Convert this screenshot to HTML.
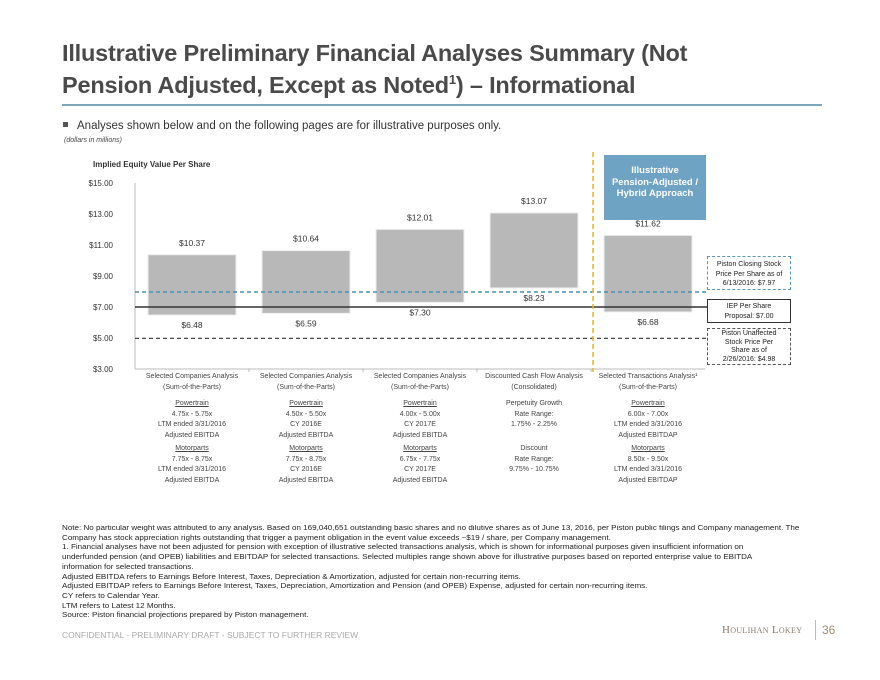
<!DOCTYPE html>
<html><head><meta charset="utf-8"><style>
body{margin:0;width:880px;height:680px;background:#fff;font-family:"Liberation Sans",Arial,sans-serif;position:relative;overflow:hidden}
.a{position:absolute;white-space:nowrap}
.t{left:62px;font-size:23.5px;font-weight:bold;color:#4a4a4a;letter-spacing:-0.2px}
.fn{left:62px;font-size:7px;color:#222;line-height:9.7px;position:absolute;top:524px;white-space:nowrap;transform:scaleX(1.15);transform-origin:0 0}
.cat{font-size:7px;color:#444;text-align:center;line-height:10.5px;width:114px}
</style></head><body>
<div class="a t" style="top:40px">Illustrative Preliminary Financial Analyses Summary (Not</div>
<div class="a t" style="top:72px">Pension Adjusted, Except as Noted<sup style="font-size:13px">1</sup>) – Informational</div>
<div class="a" style="left:62px;top:104px;width:760px;height:2px;background:#7fa6bd"></div>
<div class="a" style="left:63px;top:120px;font-size:11.5px;color:#333"><span style="display:inline-block;width:5px;height:5px;background:#555;margin-right:9px;vertical-align:2px"></span>Analyses shown below and on the following pages are for illustrative purposes only.</div>
<div class="a" style="left:64px;top:137px;font-size:7px;font-style:italic;color:#444">(dollars in millions)</div>
<div class="a" style="left:93px;top:160px;font-size:8px;font-weight:bold;color:#333">Implied Equity Value Per Share</div>

<svg id="chart" class="a" style="left:0;top:0" width="880" height="520"></svg>

<div class="a" style="left:604px;top:155px;width:102px;height:65px;background:#6fa3c3;color:#fff;font-size:9.5px;font-weight:bold;text-align:center;line-height:11.5px;padding-top:10px;box-sizing:border-box">Illustrative<br>Pension-Adjusted /<br>Hybrid Approach</div>
<div class="a" style="left:707px;top:256px;width:84px;height:34px;border:1px dashed #5b97b8;box-sizing:border-box;font-size:7px;text-align:center;line-height:9.5px;padding-top:3px;color:#222">Piston Closing Stock<br>Price Per Share as of<br>6/13/2016: $7.97</div>
<div class="a" style="left:707px;top:299px;width:84px;height:24px;border:1px solid #333;box-sizing:border-box;font-size:7px;text-align:center;line-height:9.5px;padding-top:2px;color:#222">IEP Per Share<br>Proposal: $7.00</div>
<div class="a" style="left:707px;top:328px;width:84px;height:37px;border:1px dashed #555;box-sizing:border-box;font-size:7px;text-align:center;line-height:8.5px;padding-top:1px;color:#222">Piston Unaffected<br>Stock Price Per<br>Share as of<br>2/26/2016: $4.98</div>

<div id="cats"></div>

<div class="fn">Note: No particular weight was attributed to any analysis. Based on 169,040,651 outstanding basic shares and no dilutive shares as of June 13, 2016, per Piston public filings and Company management. The<br>Company has stock appreciation rights outstanding that trigger a payment obligation in the event value exceeds ~$19 / share, per Company management.<br>1. Financial analyses have not been adjusted for pension with exception of illustrative selected transactions analysis, which is shown for informational purposes given insufficient information on<br>underfunded pension (and OPEB) liabilities and EBITDAP for selected transactions. Selected multiples range shown above for illustrative purposes based on reported enterprise value to EBITDA<br>information for selected transactions.<br>Adjusted EBITDA refers to Earnings Before Interest, Taxes, Depreciation &amp; Amortization, adjusted for certain non-recurring items.<br>Adjusted EBITDAP refers to Earnings Before Interest, Taxes, Depreciation, Amortization and Pension (and OPEB) Expense, adjusted for certain non-recurring items.<br>CY refers to Calendar Year.<br>LTM refers to Latest 12 Months.<br>Source: Piston financial projections prepared by Piston management.</div>
<div class="a" style="left:62px;top:630px;font-size:8.5px;color:#aaa">CONFIDENTIAL - PRELIMINARY DRAFT - SUBJECT TO FURTHER REVIEW</div>
<div class="a" style="left:722px;top:624px;font-size:11px;color:#8a7a6a;font-family:'Liberation Serif',serif;font-variant:small-caps;letter-spacing:0.3px">Houlihan Lokey</div>
<div class="a" style="left:815px;top:620px;width:1px;height:20px;background:#bbb"></div>
<div class="a" style="left:822px;top:623px;font-size:12px;color:#a08c6e">36</div>

<script>
const categories=["Selected Companies Analysis|(Sum-of-the-Parts)","Selected Companies Analysis|(Sum-of-the-Parts)","Selected Companies Analysis|(Sum-of-the-Parts)","Discounted Cash Flow Analysis|(Consolidated)","Selected Transactions Analysis¹|(Sum-of-the-Parts)"];
const lows=[6.48,6.59,7.30,8.23,6.68];
const highs=[10.37,10.64,12.01,13.07,11.62];
const yTicks=[3,5,7,9,11,13,15];
const refClosing=7.97, refIEP=7.00, refUnaffected=4.98;
const details=[
"<u>Powertrain</u>|4.75x - 5.75x|LTM ended 3/31/2016|Adjusted EBITDA|<u>Motorparts</u>|7.75x - 8.75x|LTM ended 3/31/2016|Adjusted EBITDA",
"<u>Powertrain</u>|4.50x - 5.50x|CY 2016E|Adjusted EBITDA|<u>Motorparts</u>|7.75x - 8.75x|CY 2016E|Adjusted EBITDA",
"<u>Powertrain</u>|4.00x - 5.00x|CY 2017E|Adjusted EBITDA|<u>Motorparts</u>|6.75x - 7.75x|CY 2017E|Adjusted EBITDA",
"Perpetuity Growth|Rate Range:|1.75% - 2.25%|&nbsp;|Discount|Rate Range:|9.75% - 10.75%|&nbsp;",
"<u>Powertrain</u>|6.00x - 7.00x|LTM ended 3/31/2016|Adjusted EBITDAP|<u>Motorparts</u>|8.50x - 9.50x|LTM ended 3/31/2016|Adjusted EBITDAP"];
const NS="http://www.w3.org/2000/svg";
const svg=document.getElementById('chart');
const x0=135,bandW=114,yMin=3,yMax=15,yTop=183,yBot=369;
const y=v=>yBot-(v-yMin)/(yMax-yMin)*(yBot-yTop);
const xc=i=>x0+bandW*(i+0.5);
function mk(tag,attrs){const e=document.createElementNS(NS,tag);for(const k in attrs)e.setAttribute(k,attrs[k]);svg.appendChild(e);return e;}
function txt(x,yy,s,anchor,size){const e=mk('text',{x:x,y:yy,'text-anchor':anchor,'font-size':size,fill:'#333','font-family':'Liberation Sans, sans-serif'});e.textContent=s;return e;}
let ax=mk('line',{x1:x0,y1:yTop,x2:x0,y2:yBot,stroke:'#bbb'});


let bx=mk('line',{x1:x0,y1:yBot,x2:x0+bandW*5,y2:yBot,stroke:'#bbb'});


yTicks.forEach(v=>{
  const t=txt(113,y(v)+3,'$'+v.toFixed(2),'end',8);
  
  
});
for(let i=1;i<5;i++){mk('line',{x1:x0+bandW*i,y1:yBot,x2:x0+bandW*i,y2:yBot+3,stroke:'#bbb'});}
lows.forEach((lo,i)=>{
  const r=mk('rect',{x:xc(i)-44,y:y(highs[i]),width:88,height:y(lo)-y(highs[i]),fill:'#b8b8b8',stroke:'#eee','stroke-width':1});
  
  
  const h=txt(xc(i),y(highs[i])-9,'$'+highs[i].toFixed(2),'middle',8.5);
  
  
  const l=txt(xc(i),y(lo)+13,'$'+lo.toFixed(2),'middle',8.5);
  
  
});
let l1=mk('line',{x1:x0,y1:y(refClosing),x2:707,y2:y(refClosing),stroke:'#4f8fb3','stroke-width':1.5,'stroke-dasharray':'4,3'});


let l2=mk('line',{x1:x0,y1:y(refIEP),x2:707,y2:y(refIEP),stroke:'#333','stroke-width':1.5});


let l3=mk('line',{x1:x0,y1:y(refUnaffected),x2:707,y2:y(refUnaffected),stroke:'#333','stroke-width':1.2,'stroke-dasharray':'4,3'});


let od=mk('line',{x1:593,y1:152,x2:593,y2:372,stroke:'#f0b323','stroke-width':1.5,'stroke-dasharray':'5,3'});


const cd=document.getElementById('cats');
categories.forEach((c,i)=>{
  const d=document.createElement('div');
  d.className='a cat';
  d.style.left=(xc(i)-57)+'px';d.style.top='372px';
  const lines=details[i].split('|');
  d.innerHTML=c.split('|').join('<br>')+'<div style="height:6px"></div>'+lines.slice(0,4).join('<br>')+'<div style="height:3px"></div>'+lines.slice(4).join('<br>');
  
  
  cd.appendChild(d);
});
</script>
</body></html>
